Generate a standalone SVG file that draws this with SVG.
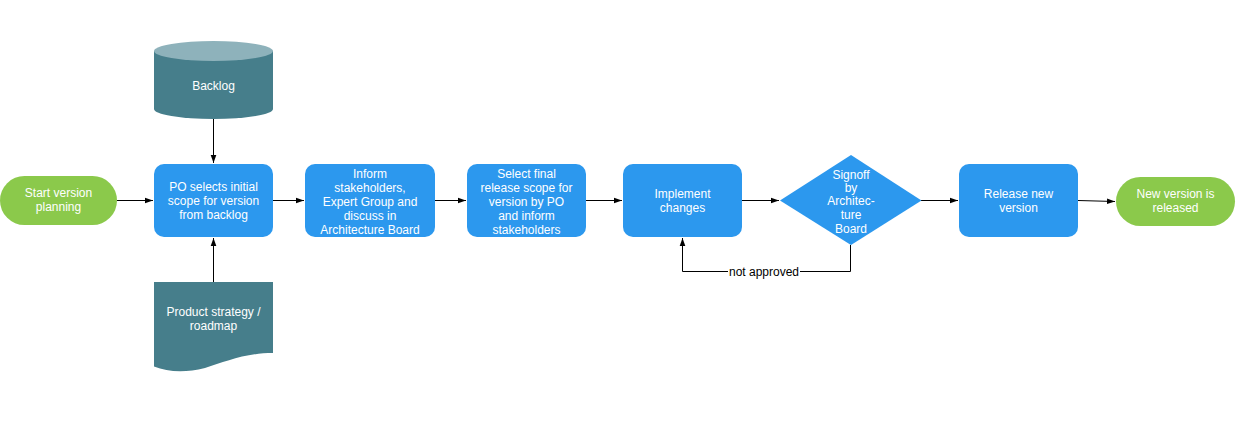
<svg xmlns="http://www.w3.org/2000/svg" width="1250" height="433" viewBox="0 0 1250 433">
<style>
  .t { font-family: "Liberation Sans", Arial, sans-serif; font-size: 12px; fill: #ffffff; text-anchor: middle; }
  .lbl { font-family: "Liberation Sans", Arial, sans-serif; font-size: 12px; fill: #000000; text-anchor: middle; }
  .proc { fill: #2c98ee; }
  .term { fill: #8bc94b; }
  .data { fill: #467e8b; }
  .conn { stroke: #000000; stroke-width: 1; fill: none; }
</style>
<defs>
  <marker id="ah" viewBox="0 0 10 10" refX="10" refY="5" markerWidth="8" markerHeight="8" markerUnits="userSpaceOnUse" orient="auto">
    <path d="M0,1.5 L10,5 L0,8.5 z" fill="#000000"/>
  </marker>
</defs>
<rect width="1250" height="433" fill="#ffffff"/>

<g id="connectors">
  <path class="conn" d="M117,200.5 L153,200.5" marker-end="url(#ah)"/>
  <path class="conn" d="M213.5,119 L213.5,163" marker-end="url(#ah)"/>
  <path class="conn" d="M213.5,282 L213.5,238" marker-end="url(#ah)"/>
  <path class="conn" d="M273,200.5 L304,200.5" marker-end="url(#ah)"/>
  <path class="conn" d="M435,200.5 L466,200.5" marker-end="url(#ah)"/>
  <path class="conn" d="M586,200.5 L622,200.5" marker-end="url(#ah)"/>
  <path class="conn" d="M742,200.5 L779,200.5" marker-end="url(#ah)"/>
  <path class="conn" d="M921,200.5 L958,200.5" marker-end="url(#ah)"/>
  <path class="conn" d="M1078,200.5 L1115,201.5" marker-end="url(#ah)"/>
  <path class="conn" d="M850.5,245 L850.5,271.5 L682.5,271.5 L682.5,238" marker-end="url(#ah)"/>
  <rect x="728" y="264" width="72" height="14" fill="#ffffff"/>
  <text class="lbl" x="764" y="275.5">not approved</text>
</g>

<g id="start">
  <rect class="term" x="0" y="176" width="117" height="49" rx="24.5"/>
  <text class="t" x="58.5" y="197">Start version</text>
  <text class="t" x="58.5" y="211">planning</text>
</g>

<g id="backlog">
  <path class="data" d="M154,51 L154,109 A59.5,10 0 0 0 273,109 L273,51 z"/>
  <ellipse cx="213.5" cy="51" rx="59.5" ry="10" fill="#8eb2bb"/>
  <text class="t" x="213.5" y="90">Backlog</text>
</g>

<g id="po-select">
  <rect class="proc" x="154" y="164" width="119" height="73" rx="10"/>
  <text class="t" x="213.5" y="191">PO selects initial</text>
  <text class="t" x="213.5" y="205">scope for version</text>
  <text class="t" x="213.5" y="219">from backlog</text>
</g>

<g id="strategy">
  <path class="data" d="M154,282 L273,282 L273,353 C245,353 225,362 205,368 C185,373 168,372 154,366.5 z"/>
  <text class="t" x="213.5" y="316">Product strategy /</text>
  <text class="t" x="213.5" y="330">roadmap</text>
</g>

<g id="inform">
  <rect class="proc" x="305" y="164" width="130" height="73" rx="10"/>
  <text class="t" x="370" y="177.5">Inform</text>
  <text class="t" x="370" y="191.5">stakeholders,</text>
  <text class="t" x="370" y="205.5">Expert Group and</text>
  <text class="t" x="370" y="219.5">discuss in</text>
  <text class="t" x="370" y="233.5">Architecture Board</text>
</g>

<g id="final-scope">
  <rect class="proc" x="467" y="164" width="119" height="73" rx="10"/>
  <text class="t" x="526.5" y="177.5">Select final</text>
  <text class="t" x="526.5" y="191.5">release scope for</text>
  <text class="t" x="526.5" y="205.5">version by PO</text>
  <text class="t" x="526.5" y="219.5">and inform</text>
  <text class="t" x="526.5" y="233.5">stakeholders</text>
</g>

<g id="implement">
  <rect class="proc" x="623" y="164" width="119" height="73" rx="10"/>
  <text class="t" x="682.5" y="198">Implement</text>
  <text class="t" x="682.5" y="212">changes</text>
</g>

<g id="signoff">
  <path class="proc" d="M851,155 L921.5,200.5 L851,245 L780,200.5 z"/>
  <text class="t" x="851" y="179">Signoff</text>
  <text class="t" x="851" y="192">by</text>
  <text class="t" x="851" y="205">Architec-</text>
  <text class="t" x="851" y="219">ture</text>
  <text class="t" x="851" y="233">Board</text>
</g>

<g id="release">
  <rect class="proc" x="959" y="164" width="119" height="73" rx="10"/>
  <text class="t" x="1018.5" y="198">Release new</text>
  <text class="t" x="1018.5" y="212">version</text>
</g>

<g id="end">
  <rect class="term" x="1116" y="177" width="119" height="49" rx="24.5"/>
  <text class="t" x="1175.5" y="198">New version is</text>
  <text class="t" x="1175.5" y="212">released</text>
</g>
</svg>
